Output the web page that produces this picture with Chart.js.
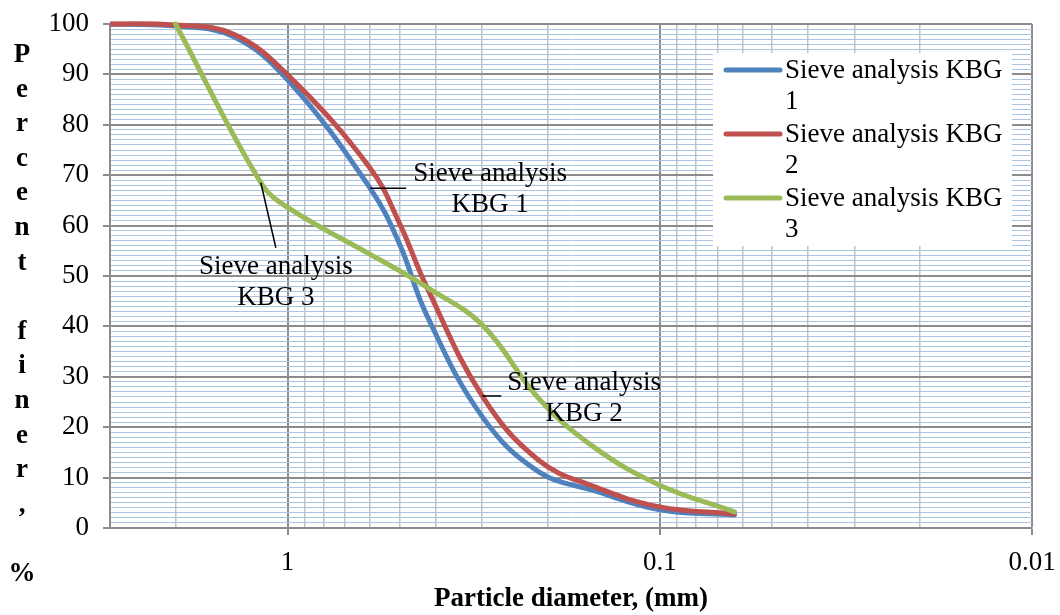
<!DOCTYPE html>
<html lang="en">
<head>
<meta charset="utf-8">
<title>Particle size distribution - Sieve analysis KBG</title>
<script src="https://cdn.jsdelivr.net/npm/chart.js"></script>
<style>
html,body{margin:0;background:#fff}
#wrap{position:relative;width:1060px;height:615px}
</style>
</head>
<body>
<div id="wrap"><canvas id="psd"></canvas></div>

<script>
/* ---------- values ---------- */
const SIEVE_MM = [3.35, 2, 1.4, 1.18, 1, 0.6, 0.5, 0.425, 0.3, 0.212, 0.15, 0.1, 0.063];
const KBG1     = [100, 99.6, 97.5, null, 88.9, 67.4, 56.3, 42.6, 22.1, 11.2, 7.4, 3.6, 2.6];
const KBG2     = [100, 99.8, 98.0, null, 89.9, 71.4, 60.4, 48.2, 26.2, 13.5, 8.2, 4.2, 2.8];
const KBG3     = [null, 100, null, 68.5, 63.6, 54.3, 51.0, 47.9, 40.3, 25.8, 16.0, 8.5, 3.2];
const NAMES    = ['Sieve analysis KBG 1', 'Sieve analysis KBG 2', 'Sieve analysis KBG 3'];

/* axis ticks */
const X_GRID   = [3, 2, 1, 0.9, 0.8, 0.7, 0.6, 0.5, 0.4, 0.3, 0.2,
                  0.1, 0.09, 0.08, 0.07, 0.06, 0.05, 0.04, 0.03, 0.02, 0.01];
const X_LABELS = [1, 0.1, 0.01];
const Y_MIN = 0, Y_MAX = 100, Y_MINOR = 1, Y_MAJOR = 10;

const X_TITLE = 'Particle diameter, (mm)';
const Y_TITLE = 'Percent finer, %';

/* ---------- look ---------- */
const COLORS  = ['#4F81BD', '#C0504D', '#9BBB59'];
const SERIF   = "'Liberation Serif','Times New Roman',serif";
const FS      = 27;
const MAJOR_GRID = '#8c8c8c';
const MINOR_VGRID = '#c3c3c3';
const MINOR_HGRID = '#adc4e1';

/* callouts: series, point index, text, offset of text centre, end of leader line */
const CALLOUTS = [
  {s:0, p:5, lines:['Sieve analysis','KBG 1'], dx:120, dy:1,   lx:36, ly:0},
  {s:1, p:8, lines:['Sieve analysis','KBG 2'], dx:102, dy:2,   lx:19, ly:0},
  {s:2, p:3, lines:['Sieve analysis','KBG 3'], dx:15,  dy:100, lx:15, ly:65}
];

function pts(vals){ return SIEVE_MM.map((d,i)=>({x:d, y:vals[i]})); }

const series = [KBG1, KBG2, KBG3].map((v,i)=>({
  label: NAMES[i],
  data: pts(v),
  borderColor: COLORS[i],
  backgroundColor: COLORS[i],
  borderWidth: 5,
  borderCapStyle: 'round',
  borderJoinStyle: 'round',
  pointRadius: 0,
  pointHoverRadius: 0,
  tension: 0.4,
  spanGaps: true,
  order: 3 - i,
  clip: {left:0, right:0, top:6, bottom:6}
}));

/* ---------- extra drawing: stacked y title, callouts, legend ---------- */
const decor = {
  id: 'decor',
  afterDraw(chart){
    const {ctx, chartArea: a} = chart;
    ctx.save();
    ctx.fillStyle = '#000';
    ctx.textAlign = 'center';
    ctx.textBaseline = 'middle';

    // vertical stacked title
    ctx.font = `bold ${FS}px ${SERIF}`;
    [...Y_TITLE].forEach((ch,i)=>{
      if (ch !== ' ') ctx.fillText(ch, 22, 55 + i*34.6);
    });

    // callouts
    ctx.font = `${FS}px ${SERIF}`;
    ctx.strokeStyle = '#000';
    ctx.lineWidth = 1.5;
    CALLOUTS.forEach(c=>{
      const el = chart.getDatasetMeta(c.s).data[c.p];
      ctx.beginPath();
      ctx.moveTo(el.x, el.y);
      ctx.lineTo(el.x + c.lx, el.y + c.ly);
      ctx.stroke();
      const cx = el.x + c.dx, cy = el.y + c.dy;
      c.lines.forEach((t,k)=>ctx.fillText(t, cx, cy + (k - (c.lines.length-1)/2)*31));
    });

    // legend
    const bx = a.right - 319, by = a.top + 29, bw = 299, bh = 193;
    ctx.fillStyle = '#fff';
    ctx.fillRect(bx, by, bw, bh);
    ctx.textAlign = 'left';
    ctx.lineCap = 'round';
    chart.data.datasets.forEach((ds,i)=>{
      const y = by + 17 + i*64;
      ctx.strokeStyle = ds.borderColor;
      ctx.lineWidth = 5;
      ctx.beginPath();
      ctx.moveTo(bx + 13, y);
      ctx.lineTo(bx + 67, y);
      ctx.stroke();
      // simple word wrap
      const words = ds.label.split(' ');
      const rows = [];
      let cur = '';
      words.forEach(w=>{
        const test = cur ? cur + ' ' + w : w;
        if (ctx.measureText(test).width > bw - 76 && cur){ rows.push(cur); cur = w; }
        else cur = test;
      });
      rows.push(cur);
      ctx.fillStyle = '#000';
      rows.forEach((r,k)=>ctx.fillText(r, bx + 72, y + 1 + k*31));
    });
    ctx.restore();
  }
};

const isMajorX = v => X_LABELS.some(m => Math.abs(m - v) < 1e-9);

new Chart(document.getElementById('psd'), {
  type: 'line',
  data: { datasets: series },
  options: {
    responsive: true,
    maintainAspectRatio: false,
    animation: false,
    layout: { padding: {left:0, right:28, top:24, bottom:0} },
    plugins: { legend: {display:false}, tooltip: {enabled:false} },
    scales: {
      x: {
        type: 'logarithmic',
        min: 0.01, max: 3,
        reverse: true,
        afterBuildTicks: s => { s.ticks = X_GRID.map(v=>({value:v})); },
        afterFit: s => { s.height = 87; s.paddingLeft = 0; s.paddingRight = 0; },
        border: { color: MAJOR_GRID, width: 2 },
        grid: {
          color: c => isMajorX(c.tick.value) ? MAJOR_GRID : MINOR_VGRID,
          lineWidth: c => isMajorX(c.tick.value) ? 2 : 1.5,
          tickColor: c => isMajorX(c.tick.value) ? MAJOR_GRID : 'rgba(0,0,0,0)',
          tickLength: 7
        },
        ticks: {
          autoSkip: false,
          maxRotation: 0,
          padding: 12,
          color: '#000',
          font: { family: SERIF, size: FS },
          callback: v => isMajorX(v) ? String(v) : ''
        },
        title: {
          display: true,
          text: X_TITLE,
          color: '#000',
          font: { family: SERIF, size: FS, weight: 'bold' },
          padding: { top: 0, bottom: 0 }
        }
      },
      y: {
        min: Y_MIN, max: Y_MAX,
        afterBuildTicks: s => {
          const t = [];
          for (let v = Y_MIN; v <= Y_MAX; v += Y_MINOR) t.push({value:v});
          s.ticks = t;
        },
        afterFit: s => { s.width = 110; s.paddingTop = 0; s.paddingBottom = 0; },
        border: { color: MAJOR_GRID, width: 2 },
        grid: {
          color: c => c.tick.value % Y_MAJOR === 0 ? MAJOR_GRID : MINOR_HGRID,
          lineWidth: c => c.tick.value % Y_MAJOR === 0 ? 2 : 1,
          tickColor: c => c.tick.value % Y_MAJOR === 0 ? MAJOR_GRID : 'rgba(0,0,0,0)',
          tickLength: 7
        },
        ticks: {
          autoSkip: false,
          padding: 14,
          color: '#000',
          font: { family: SERIF, size: FS },
          callback: v => v % Y_MAJOR === 0 ? String(v) : ''
        }
      }
    }
  },
  plugins: [decor]
});
</script>
</body>
</html>
